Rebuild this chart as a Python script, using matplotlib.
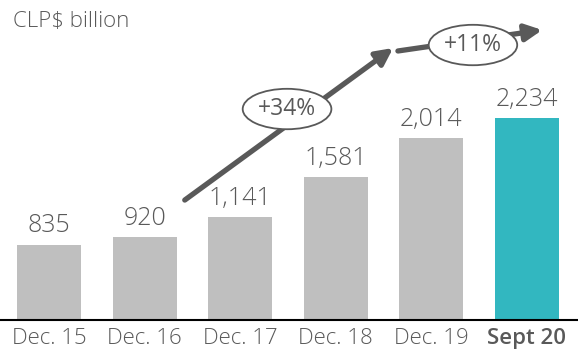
import matplotlib.pyplot as plt

plt.rcParams['font.family'] = ['Open Sans', 'DejaVu Sans']

periods = ["Dec. 15", "Dec. 16", "Dec. 17", "Dec. 18", "Dec. 19", "Sept 20"]
values = [835, 920, 1141, 1581, 2014, 2234]
growth_labels = ["+34%", "+11%"]

grey = "#bfbfbf"
teal = "#32b7c0"
text_col = "#595959"
arrow_col = "#595959"

fig = plt.figure(figsize=(5.78, 3.54), dpi=100)
ax = fig.add_axes([0, 0.096, 1, 0.904])

x = list(range(len(values)))
colors = [grey] * (len(values) - 1) + [teal]
ax.bar(x, values, width=0.67, color=colors)

for xi, v in zip(x, values):
    ax.text(xi, v + 70, f"{v:,}", ha="center", va="bottom",
            fontsize=18, color=text_col, fontweight="light")

ax.set_xlim(-0.513, 5.534)
ax.set_ylim(0, 3540)
ax.set_xticks(x)
ax.set_xticklabels(periods, fontsize=16, color=text_col, fontweight="light")
ax.get_xticklabels()[-1].set_fontweight("semibold")
ax.tick_params(axis="x", length=0, pad=6)
ax.set_yticks([])
for side in ["top", "right", "left"]:
    ax.spines[side].set_visible(False)
ax.spines["bottom"].set_linewidth(1.5)
ax.spines["bottom"].set_color("black")

# growth arrows
arrow_kw = dict(arrowstyle="-|>,head_length=1.0,head_width=0.5",
                color=arrow_col, lw=3.8, shrinkA=0, shrinkB=0)
ax.annotate("", xy=(3.60, 3009), xytext=(1.42, 1327), arrowprops=arrow_kw)
ax.annotate("", xy=(5.16, 3208), xytext=(3.65, 2976), arrowprops=arrow_kw)

ell = dict(boxstyle="ellipse,pad=0.1", fc="white", ec=arrow_col, lw=1.3)
ax.text(2.49, 2334, growth_labels[0], ha="center", va="center",
        fontsize=16.5, color=text_col, fontweight="medium", bbox=ell)
ax.text(4.435, 3042, growth_labels[1], ha="center", va="center",
        fontsize=16.5, color=text_col, fontweight="medium", bbox=ell)

fig.text(0.022, 0.939, "CLP$ billion", fontsize=16, color=text_col,
         ha="left", va="center", fontweight="light")

fig.savefig("out.png", dpi=100)
